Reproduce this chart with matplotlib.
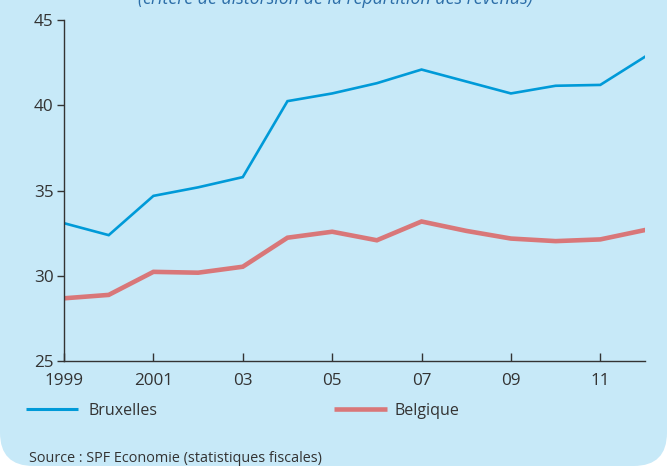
import matplotlib
matplotlib.use("Agg")
import matplotlib.pyplot as plt
from matplotlib.patches import FancyBboxPatch
from matplotlib.lines import Line2D

# ---------------- DATA ----------------
years = [1999, 2000, 2001, 2002, 2003, 2004, 2005, 2006, 2007, 2008, 2009, 2010, 2011, 2012]
bruxelles = [33.1, 32.4, 34.7, 35.2, 35.8, 40.25, 40.7, 41.3, 42.1, 41.4, 40.7, 41.15, 41.2, 42.85]
belgique = [28.7, 28.9, 30.25, 30.2, 30.55, 32.25, 32.6, 32.1, 33.2, 32.65, 32.2, 32.05, 32.15, 32.7]

tick_years = [1999, 2001, 2003, 2005, 2007, 2009, 2011]
tick_labels = ["1999", "2001", "03", "05", "07", "09", "11"]
y_ticks = [25, 30, 35, 40, 45]

title = "(critère de distorsion de la répartition des revenus)"
source = "Source : SPF Economie (statistiques fiscales)"

# ---------------- STYLE ----------------
BG = "#c7e9f8"
BLUE = "#009ad8"
RED = "#d97779"
TXT = "#333333"
plt.rcParams["font.family"] = ["Open Sans", "DejaVu Sans"]

fig = plt.figure(figsize=(6.67, 4.66), dpi=100, facecolor="white")

# rounded light-blue panel (top corners pushed out of view)
panel = FancyBboxPatch((0.0, 0.0), 1.0, 1.2,
                       boxstyle="round,pad=0,rounding_size=0.05",
                       transform=fig.transFigure, facecolor=BG,
                       edgecolor="none", mutation_aspect=667 / 466,
                       zorder=-10)
fig.add_artist(panel)

ax = fig.add_axes([0.096, 0.2243, 0.871, 0.7327])
ax.set_facecolor("none")
ax.set_zorder(1)

ax.plot(years, bruxelles, color=BLUE, lw=1.9, solid_joinstyle="miter")
ax.plot(years, belgique, color=RED, lw=3.3, solid_joinstyle="miter")

ax.set_xlim(1999, 2012)
ax.set_ylim(25, 45)
ax.set_xticks(tick_years)
ax.set_xticklabels(tick_labels)
ax.set_yticks(y_ticks)

for s in ["top", "right"]:
    ax.spines[s].set_visible(False)
for s in ["left", "bottom"]:
    ax.spines[s].set_color(TXT)
    ax.spines[s].set_linewidth(1.0)

ax.tick_params(axis="y", direction="out", length=5, width=1.0, color=TXT,
               labelsize=12.3, labelcolor=TXT, pad=2.5)
ax.tick_params(axis="x", direction="in", length=6, width=1.0, color=TXT,
               labelsize=12.3, labelcolor=TXT, pad=8)

# title, partly cut off at the top
fig.text(0.503, 1 - 4.5 / 466, title, ha="center", va="baseline", style="italic",
         fontsize=12.8, color="#2c6ea8")

# legend
handles = [Line2D([], [], color=BLUE, lw=2.2, solid_capstyle="butt"),
           Line2D([], [], color=RED, lw=3.3, solid_capstyle="butt")]
fig.legend([handles[0]], ["Bruxelles"], loc="center left",
           bbox_to_anchor=(0.017, 0.118), frameon=False,
           fontsize=11.5, handlelength=3.3, handletextpad=0.6,
           labelcolor=TXT)
fig.legend([handles[1]], ["Belgique"], loc="center left",
           bbox_to_anchor=(0.479, 0.118), frameon=False,
           fontsize=11.5, handlelength=3.3, handletextpad=0.5,
           labelcolor=TXT)

fig.text(0.043, 0.017, source, ha="left", va="center", fontsize=10.4, color=TXT)

fig.savefig("out.png", dpi=100, facecolor="white")
